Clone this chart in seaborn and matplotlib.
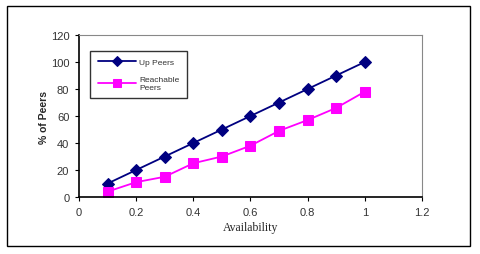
import matplotlib
matplotlib.use("Agg")
import matplotlib.pyplot as plt
import seaborn as sns
import pandas as pd
from matplotlib.patches import Rectangle

# values
availability = [0.1, 0.2, 0.3, 0.4, 0.5, 0.6, 0.7, 0.8, 0.9, 1.0]
up_peers = [10, 20, 30, 40, 50, 60, 70, 80, 90, 100]
reachable_peers = [4, 11, 15, 25, 30, 38, 49, 57, 66, 78]
x_ticks = [0, 0.2, 0.4, 0.6, 0.8, 1, 1.2]
x_tick_labels = ["0", "0.2", "0.4", "0.6", "0.8", "1", "1.2"]
y_ticks = [0, 20, 40, 60, 80, 100, 120]

df = pd.DataFrame({"Availability": availability, "up": up_peers, "reach": reachable_peers})

sns.set_style("white")
plt.rcParams["font.family"] = ["Liberation Sans", "DejaVu Sans"]

fig = plt.figure(figsize=(4.8, 2.55), dpi=100)
ax = fig.add_axes([0.1646, 0.2235, 0.879 - 0.1646, 0.8588 - 0.2235])

# outer frame around the whole chart
fig.patches.append(Rectangle((7 / 480, 8 / 255), 463 / 480, 240 / 255,
                             transform=fig.transFigure, fill=False,
                             edgecolor="black", linewidth=1.0))

sns.lineplot(data=df, x="Availability", y="up", ax=ax, color="#000080",
             marker="D", markersize=6, markeredgecolor="#000080",
             linewidth=1.3, label="Up Peers")
sns.lineplot(data=df, x="Availability", y="reach", ax=ax, color="#FF00FF",
             marker="s", markersize=7, markeredgecolor="#FF00FF",
             linewidth=1.3, label="Reachable\nPeers")

ax.set_xlim(0, 1.2)
ax.set_ylim(0, 120)
ax.set_xticks(x_ticks)
ax.set_xticklabels(x_tick_labels)
ax.set_yticks(y_ticks)
ax.tick_params(axis="both", labelsize=8, length=3, direction="out",
               colors="black", bottom=True, left=True, pad=4)
ax.tick_params(axis="both", labelcolor="#333333")

for s in ["left", "bottom"]:
    ax.spines[s].set_color("black")
    ax.spines[s].set_linewidth(1.2)
for s in ["top", "right"]:
    ax.spines[s].set_color("#888888")
    ax.spines[s].set_linewidth(0.8)

ax.set_xlabel("Availability", fontsize=8.5, family=["Liberation Serif"],
              labelpad=3)
ax.set_ylabel("% of Peers", fontsize=7.5, family=["Liberation Sans"],
              fontweight="bold", labelpad=1)

leg = ax.legend(loc="upper left", bbox_to_anchor=(0.02, 0.93),
                frameon=True, fancybox=False, shadow=False,
                prop={"family": "Liberation Sans", "size": 6},
                handlelength=4.6, labelspacing=1.2, borderpad=0.9,
                handletextpad=0.4, markerscale=0.8)
leg.get_frame().set_edgecolor("black")
leg.get_frame().set_linewidth(1.0)
for t in leg.get_texts():
    t.set_color("#333333")

fig.savefig("out.png", dpi=100)
